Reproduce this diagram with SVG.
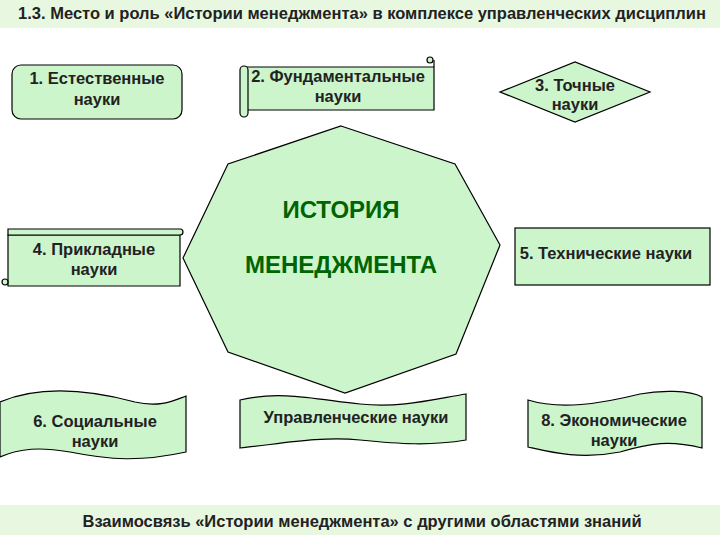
<svg xmlns="http://www.w3.org/2000/svg" width="720" height="540" viewBox="0 0 720 540">
<style>
.s{fill:#ccf5cc;stroke:#000;stroke-width:1.2}
.t{font-family:"Liberation Sans",Arial,sans-serif;font-size:16.5px;font-weight:bold;fill:#222;text-anchor:middle}
.g{font-family:"Liberation Sans",Arial,sans-serif;font-size:24px;font-weight:bold;fill:#006400;text-anchor:middle}
</style>
<rect width="720" height="540" fill="#fff"/>
<rect x="0" y="0" width="720" height="28" fill="#e8f8e0"/>
<text x="362" y="19" class="t" font-size="16">1.3. Место и роль «Истории менеджмента» в комплексе управленческих дисциплин</text>
<rect x="0" y="505" width="720" height="30" fill="#e8f8e0"/>
<text x="362" y="527" class="t" font-size="16">Взаимосвязь «Истории менеджмента» с другими областями знаний</text>
<g id="center"><polygon class="s" points="341,126 455,164 500,245 456,354 345,393 228,352 183,258 228,164"/>
<text x="341" y="218" class="g">ИСТОРИЯ</text><text x="341" y="273" class="g">МЕНЕДЖМЕНТА</text></g>
<g id="n1"><rect class="s" x="12" y="65" width="170" height="54" rx="9"/>
<text x="97" y="84" class="t">1. Естественные</text><text x="97" y="105" class="t">науки</text></g>
<g id="n2"><path class="s" d="M246,67 H434 V110 H246 Z"/><path class="s" d="M240,70 a4,4 0 0 1 8,0 V113 a4,4 0 0 1 -8,0 Z"/><circle class="s" cx="430" cy="60" r="3"/><path class="s" d="M434,60 V67" fill="none"/>
<text x="338" y="82" class="t">2. Фундаментальные</text><text x="338" y="102" class="t">науки</text></g>
<g id="n3"><polygon class="s" points="500,92 575,62 650,92 575,122"/>
<text x="575" y="91" class="t">3. Точные</text><text x="575" y="110" class="t">науки</text></g>
<g id="n4"><path class="s" d="M8,235 H180 V286 H8 Z"/><path class="s" d="M8,229 H180 a3,3 0 0 1 0,6 H8 Z"/><circle class="s" cx="5" cy="282" r="3"/>
<text x="94" y="255" class="t">4. Прикладные</text><text x="94" y="275" class="t">науки</text></g>
<g id="n5"><rect class="s" x="515" y="228" width="195" height="57"/>
<text x="606" y="259" class="t">5. Технические науки</text></g>
<g id="n6"><path class="s" d="M0,402 C40,385 90,390 135,402 C160,408 175,400 186,396 V452 C140,462 110,460 70,452 C40,447 20,448 0,457 Z"/>
<text x="95" y="427" class="t">6. Социальные</text><text x="95" y="447" class="t">науки</text></g>
<g id="n7"><path class="s" d="M240,400 C280,390 320,400 360,404 C400,408 430,400 466,394 V440 C430,446 400,444 360,440 C320,436 280,444 240,448 Z"/>
<text x="356" y="423" class="t" font-size="18">Управленческие науки</text></g>
<g id="n8"><path class="s" d="M528,400 C560,410 600,404 640,394 C660,390 690,390 702,397 V448 C670,440 650,443 620,452 C580,460 550,452 528,447 Z"/>
<text x="614" y="426" class="t">8. Экономические</text><text x="614" y="446" class="t">науки</text></g>
<g id="connectors"></g>
</svg>
